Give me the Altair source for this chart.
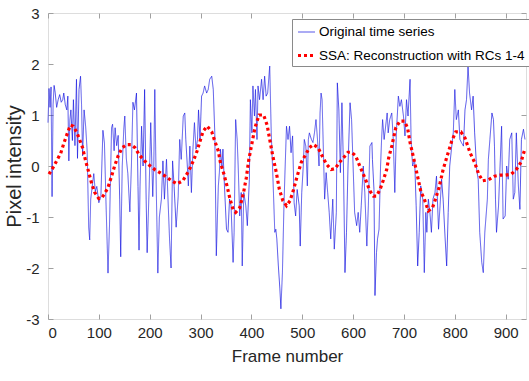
import altair as alt
import pandas as pd

# ---- data ----
orig_frames = [0, 2, 4, 6, 8, 10, 12, 14, 17, 20, 23, 26, 29, 31, 34, 37, 39, 41, 43, 45, 48, 50, 53, 56, 58, 61,
               64, 66, 68, 71, 74, 77, 80, 82, 84, 87, 90, 93, 96, 100, 104, 108, 111, 114, 118, 121, 125, 127, 130,
               132, 135, 138, 141, 143, 146, 149, 151, 154, 157, 161, 164, 167, 170, 174, 177, 179, 181, 184, 187,
               190, 193, 195, 199, 202, 206, 208, 210, 213, 216, 219, 223, 226, 229, 233, 236, 239, 242, 245, 248,
               252, 256, 259, 262, 266, 269, 271, 274, 276, 279, 282, 285, 288, 291, 294, 296, 299, 302, 305, 308,
               312, 315, 318, 322, 325, 328, 331, 335, 337, 339, 342, 344, 347, 351, 354, 357, 360, 364, 366, 369,
               372, 374, 377, 380, 382, 385, 389, 392, 396, 398, 401, 403, 406, 408, 411, 413, 416, 420, 423, 426,
               429, 432, 436, 439, 442, 446, 448, 450, 453, 456, 458, 461, 464, 466, 469, 472, 475, 478, 481, 484,
               487, 490, 494, 496, 499, 502, 504, 507, 510, 512, 514, 518, 521, 524, 527, 530, 533, 535, 537, 539,
               542, 544, 547, 550, 553, 556, 560, 563, 567, 569, 572, 575, 578, 581, 584, 587, 590, 594, 597, 600,
               603, 607, 610, 613, 616, 620, 623, 627, 630, 633, 637, 638, 641, 643, 646, 648, 651, 654, 656, 658,
               661, 664, 667, 669, 672, 676, 679, 682, 685, 689, 692, 695, 699, 702, 705, 708, 712, 714, 717, 721,
               724, 727, 730, 733, 737, 740, 743, 745, 748, 751, 754, 757, 761, 764, 768, 771, 774, 777, 781, 784,
               787, 790, 794, 797, 800, 803, 807, 810, 813, 817, 820, 823, 826, 829, 833, 836, 839, 843, 846, 849,
               853, 856, 859, 864, 866, 869, 873, 876, 878, 880, 882, 886, 889, 892, 895, 899, 902, 905, 908, 912,
               915, 918, 921, 925, 928, 931, 935, 938]
orig_values = [0.85, 1.52, 1.15, 1.55, -0.6, 1.2, 1.58, 1.45, 1.15, 1.3, 1.4, 1.25, 1.3, 1.43, 1.2, 1.1, 1.37, 0.1,
               0.9, 1.1, 0.5, 1.3, 0.4, 1.7, 0.15, 1.5, 1.76, 1.2, 0.2, 1.1, 0.78, 0.3, -1.2, -1.45, -0.65, -0.4,
               -0.15, -0.5, -0.4, -0.72, -0.6, 0.7, 0.45, -0.7, -2.1, -1.15, 0.75, 0.82, 0.3, 0.75, 0.4, 0.6, -0.65,
               -1.78, 0.0, 0.72, 0.98, 0.15, -0.15, -0.9, 0.0, 1.25, 1.1, 1.43, -0.4, -1.65, -0.4, 0.78, 0.0, 1.5,
               -0.65, -1.7, -0.4, 0.85, -0.6, 0.0, 1.5, -0.5, -2.1, -1.0, -0.65, 0.1, -0.65, 0.13, -0.65, -1.43,
               -2.0, 0.1, -0.4, -1.2, -0.6, 0.52, 0.13, 0.98, 1.04, 0.52, 0.0, -0.39, 0.39, -0.52, 0.33, 0.85, 0.33,
               0.52, 1.1, 0.52, 1.37, 1.43, 1.57, 1.43, 1.5, 1.7, 1.76, 1.5, 0.65, -1.76, -0.39, -0.13, 0.33, 0.0,
               0.33, -0.39, -1.24, -1.3, -0.65, -0.78, -1.89, -1.3, 0.91, 0.52, 0.0, -0.98, -0.52, -1.96, -0.52,
               -0.78, -1.17, -0.26, 1.3, 0.65, 1.57, 0.98, 1.5, 0.52, 1.57, 1.3, 1.7, 1.3, 1.76, 1.37, 1.43, 1.96,
               0.65, -0.13, -1.3, -1.24, -1.43, -1.96, -2.41, -2.8, -2.09, -0.78, -0.13, 0.78, 0.52, 0.78, 0.26,
               0.59, -0.72, -0.98, -0.46, -0.78, -1.57, -0.52, 0.0, 0.52, 0.39, -0.39, 0.52, 0.65, 0.52, 0.46, 0.65,
               0.91, 0.52, 0.0, 1.04, 1.43, 1.3, 0.13, -0.65, -0.13, -0.52, -0.91, -1.43, -0.65, -1.63, -0.91, 1.63,
               1.1, -0.13, 1.24, 0.0, -2.09, -1.3, 0.0, 1.24, 0.91, 0.0, -0.91, -1.17, -0.91, -1.3, -0.78, 0.0, -0.52,
               -1.57, -0.78, 0.39, 0.46, 0.13, -0.46, -2.54, -1.7, -1.43, -1.24, 0.0, 0.52, 0.91, 0.52, 0.78, 1.04,
               0.65, 0.91, 1.04, 0.52, -0.52, 0.65, 1.37, 1.17, 1.3, 0.98, 0.59, 1.3, 0.98, 1.7, 0.52, 0.0, 0.13,
               -0.78, -1.96, -1.3, -0.39, -0.65, -2.09, -0.91, -1.3, -0.65, -0.91, -1.3, -0.65, -0.52, -0.2, -1.24,
               -0.78, -0.26, -0.65, -1.43, -1.96, -0.91, 0.0, 0.39, 0.65, 1.5, 0.91, 1.1, 0.52, 0.46, 0.39, 1.1, 1.3,
               1.96, 1.43, 1.1, 1.37, 0.65, -0.07, -0.26, -1.3, -1.89, -2.09, -1.3, -0.65, 0.13, 0.52, 1.04, 0.91,
               0.39, -0.65, -1.3, -0.78, 0.0, 0.78, -1.04, -0.98, 0.0, -0.26, 0.52, 0.65, -0.65, -0.52, 0.65, -0.39,
               -0.85, 0.52, 0.72, 0.52]

ssa_frames = [2, 10, 18, 25, 31, 38, 44, 50, 57, 62, 68, 74, 80, 86, 92, 100, 106, 111, 118, 125, 131, 138, 146,
              155, 163, 171, 180, 190, 200, 210, 220, 231, 243, 254, 265, 273, 280, 287, 293, 300, 305, 313, 322,
              328, 335, 339, 346, 352, 358, 364, 369, 377, 384, 390, 395, 400, 407, 415, 424, 431, 436, 442, 449,
              455, 462, 469, 476, 483, 490, 498, 507, 514, 522, 531, 539, 548, 557, 565, 573, 581, 590, 597, 605,
              613, 620, 627, 633, 640, 646, 653, 659, 666, 670, 676, 684, 692, 701, 707, 712, 718, 723, 728, 733,
              740, 748, 756, 762, 769, 777, 786, 794, 802, 812, 820, 830, 839, 847, 855, 866, 878, 889, 900, 911,
              921, 930, 938]
ssa_values = [-0.16, -0.03, 0.12, 0.25, 0.44, 0.64, 0.8, 0.78, 0.65, 0.52, 0.36, 0.1, -0.12, -0.35, -0.52, -0.64,
              -0.62, -0.55, -0.42, -0.2, 0.0, 0.2, 0.36, 0.42, 0.42, 0.36, 0.21, 0.1, 0.01, -0.07, -0.13, -0.2,
              -0.29, -0.35, -0.29, -0.16, -0.03, 0.13, 0.29, 0.52, 0.68, 0.78, 0.67, 0.49, 0.29, 0.07, -0.16, -0.39,
              -0.65, -0.85, -0.91, -0.82, -0.55, -0.23, 0.13, 0.39, 0.75, 1.0, 1.0, 0.8, 0.52, 0.2, -0.13, -0.46,
              -0.68, -0.78, -0.68, -0.46, -0.2, 0.07, 0.23, 0.36, 0.42, 0.36, 0.2, 0.03, -0.07, -0.05, 0.07, 0.16,
              0.27, 0.27, 0.2, 0.0, -0.16, -0.33, -0.49, -0.59, -0.59, -0.46, -0.29, -0.07, 0.16, 0.39, 0.75, 0.88,
              0.88, 0.75, 0.46, 0.2, -0.03, -0.26, -0.49, -0.65, -0.88, -0.82, -0.65, -0.42, -0.07, 0.23, 0.49,
              0.67, 0.67, 0.55, 0.26, 0.07, -0.16, -0.29, -0.27, -0.2, -0.18, -0.18, -0.16, -0.07, 0.07, 0.34]

series_names = ["Original time series", "SSA: Reconstruction with RCs 1-4"]
x_ticks = [0, 100, 200, 300, 400, 500, 600, 700, 800, 900]
y_ticks = [-3, -2, -1, 0, 1, 2, 3]

df = pd.concat([
    pd.DataFrame({"frame": orig_frames, "value": orig_values, "series": series_names[0]}),
    pd.DataFrame({"frame": ssa_frames, "value": ssa_values, "series": series_names[1]}),
], ignore_index=True)

W, H = 478, 306
FONT = "Liberation Sans"
GREY = "#a0a0a0"
TXT = "#262626"

leg = alt.Legend(title=None, orient="none", legendX=244, legendY=6, symbolType="stroke",
                 symbolSize=289, labelFontSize=13.5, labelFont=FONT, labelColor="#000000",
                 strokeColor="#8a8a8a", fillColor="#ffffff", padding=4, rowPadding=6,
                 labelOffset=2, labelLimit=400)

chart = alt.Chart(df).mark_line(strokeCap="butt", strokeJoin="miter").encode(
    x=alt.X("frame:Q",
            scale=alt.Scale(domain=[0, 940], nice=False, zero=False),
            axis=alt.Axis(values=x_ticks, title="Frame number", grid=True, gridDash=[5, H - 10, 5],
                          gridColor=GREY, gridOpacity=1, ticks=False, domain=False,
                          labelFont=FONT, labelFontSize=15, labelColor=TXT, labelPadding=6,
                          labelExpr="'' + datum.value",
                          titleFont=FONT, titleFontSize=17, titleFontWeight="normal",
                          titleColor=TXT, titlePadding=8)),
    y=alt.Y("value:Q",
            scale=alt.Scale(domain=[-3, 3], nice=False, zero=False),
            axis=alt.Axis(values=y_ticks, title="Pixel intensity", grid=True, gridDash=[5, W - 10, 5],
                          gridColor=GREY, gridOpacity=1, ticks=False, domain=False,
                          labelFont=FONT, labelFontSize=15, labelColor=TXT, labelPadding=9,
                          labelExpr="'' + datum.value",
                          titleFont=FONT, titleFontSize=20, titleFontWeight="normal",
                          titleColor=TXT, titlePadding=1)),
    color=alt.Color("series:N", scale=alt.Scale(domain=series_names, range=["#1010e0", "#ff0000"]),
                    legend=leg),
    strokeDash=alt.StrokeDash("series:N", scale=alt.Scale(domain=series_names, range=[[1, 0], [3, 3]]),
                              legend=leg),
    strokeWidth=alt.StrokeWidth("series:N", scale=alt.Scale(domain=series_names, range=[0.7, 3.2]),
                                legend=leg),
).properties(
    width=W, height=H,
    autosize=alt.AutoSizeParams(type="none"),
    padding={"left": 48, "top": 13, "right": 3, "bottom": 62},
).configure_view(stroke=GREY, strokeWidth=1).configure(background="#ffffff")

chart.save("out.html", embed_options={"renderer": "svg", "actions": False})
